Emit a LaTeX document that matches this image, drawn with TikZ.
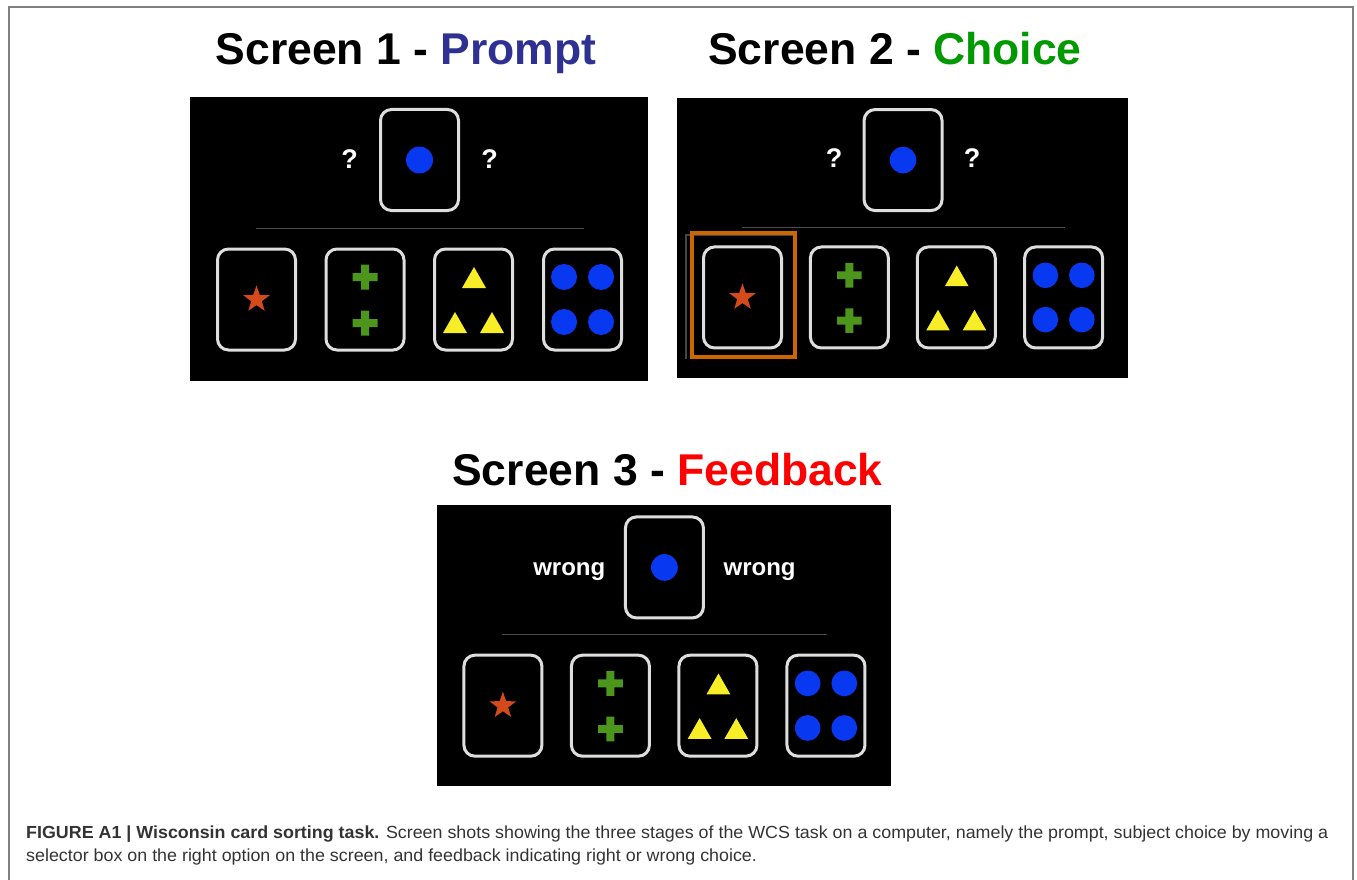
\documentclass[tikz,border=0pt]{standalone}
\usepackage{fontspec}
\usepackage{graphicx}
\setmainfont{Liberation Sans}
\newfontfamily\capfont{Liberation Sans}
\usetikzlibrary{shapes.geometric}
\definecolor{cardgray}{RGB}{222,222,222}
\definecolor{dotblue}{RGB}{8,56,240}
\definecolor{starred}{RGB}{212,74,26}
\definecolor{crossgreen}{RGB}{76,150,28}
\definecolor{triyellow}{RGB}{248,238,40}
\definecolor{selorange}{RGB}{204,102,0}
\definecolor{promptblue}{RGB}{46,49,146}
\definecolor{choicegreen}{RGB}{0,153,0}
\definecolor{feedbackred}{RGB}{255,0,0}
\newlength\capwd
\newcommand{\capone}{\textbf{FIGURE A1 | Wisconsin card sorting task.} Screen shots showing the three stages of the WCS task on a computer, namely the prompt, subject choice by moving a}
\newcommand{\captwo}{selector box on the right option on the screen, and feedback indicating right or wrong choice.}
% one screen shot: #1 name, #2 top left corner, #3 scale, #4 side text, #5 side offset
\newcommand{\wcsscreen}[5]{%
  \begin{scope}[shift={(#2)},scale=#3]
    \fill[black] (0,0) rectangle (458,284);
    \node[card] (#1top) at (229.5,63) {};
    \fill[dotblue] (229.5,63) circle (13.5);
    \node[side] (#1left) at (229.5-#5,71) {#4};
    \node[side] (#1right) at (229.5+#5,71) {#4};
    \draw[sepline] (66,131) -- (394,131);
    \foreach \i/\cx in {1/66.5,2/175,3/283.5,4/392.5}
      \node[card] (#1c\i) at (\cx,202.5) {};
    \node[starshape] (#1star) at (66.5,202.5) {};
    \begin{scope}[shift={(175,202.5)}]
      \foreach \cy in {-22.5,23.5}
        \fill[crossgreen] (-12.5,\cy-4) rectangle (12.5,\cy+4) (-4,\cy-12.5) rectangle (4,\cy+12.5);
    \end{scope}
    \begin{scope}[shift={(283.5,202.5)}]
      \fill[triyellow] (-11.5,-11.5) -- (12.5,-11.5) -- (0.5,-32.5) -- cycle;
      \fill[triyellow] (-30.5,33.5) -- (-6.5,33.5) -- (-18.5,12.5) -- cycle;
      \fill[triyellow] (6.5,33.5) -- (30.5,33.5) -- (18.5,12.5) -- cycle;
    \end{scope}
    \begin{scope}[shift={(392.5,202.5)}]
      \foreach \dx in {-18.5,18.5}
        \foreach \dy in {-22.5,22.5}
          \fill[dotblue] (\dx,\dy) circle (13);
    \end{scope}
  \end{scope}}
\begin{document}
\settowidth\capwd{\capfont\fontsize{17.5}{21}\selectfont\capone}
\pgfmathsetmacro\capsx{1302pt/\capwd}
\begin{tikzpicture}[x=1pt,y=-1pt,
    card/.style={draw=cardgray,line width=3pt,rounded corners=11pt,minimum width=78pt,minimum height=101pt,inner sep=0pt},
    side/.style={text=white,font=\fontsize{27}{32}\selectfont\bfseries,anchor=base,inner sep=0pt},
    sepline/.style={draw=gray!60!black,line width=1pt},
    starshape/.style={star,star points=5,star point ratio=2.5,fill=starred,minimum size=28pt,inner sep=0pt},
    selbox/.style={draw=selorange,line width=4pt,minimum width=103pt,minimum height=124pt,inner sep=0pt},
    selshade/.style={draw=gray!55!black,line width=2pt},
    title/.style={font=\fontsize{44.5}{50}\selectfont\bfseries,anchor=base,inner sep=0pt},
    caption/.style={font=\capfont\fontsize{17.5}{21}\selectfont,text=black!80,anchor=base west,inner sep=0pt},
    frame/.style={draw=gray,line width=1.5pt}]
  \useasboundingbox (0,0) rectangle (1357,880);
  \draw[frame] (9,880) -- (9,7) -- (1353,7) -- (1353,880);
  \node[title] (t1) at (406,65) {Screen 1 - \textcolor{promptblue}{Prompt}};
  \node[title] (t2) at (895,65) {Screen 2 - \textcolor{choicegreen}{Choice}};
  \node[title] (t3) at (667.5,485) {Screen 3 - \textcolor{feedbackred}{Feedback}};
  \wcsscreen{s1}{190,97}{1}{?}{70}
  \wcsscreen{s2}{677,98}{0.985}{?}{70}
  \wcsscreen{s3}{437,505}{0.991}{\fontsize{24}{28}\selectfont wrong}{96}
  \node[selbox] (sel) at ([xshift=1pt,yshift=2.5pt]s2c1) {};
  \draw[selshade] ([xshift=-4pt]sel.south west) |- ([xshift=-3pt,yshift=-4pt]sel.north east);
  \node[selbox] at (sel) {};
  \node[caption] (cap1) at (26,838) {\scalebox{\capsx}[1]{\capone}};
  \node[caption] (cap2) at (26,861) {\scalebox{\capsx}[1]{\captwo}};
\end{tikzpicture}
\end{document}
